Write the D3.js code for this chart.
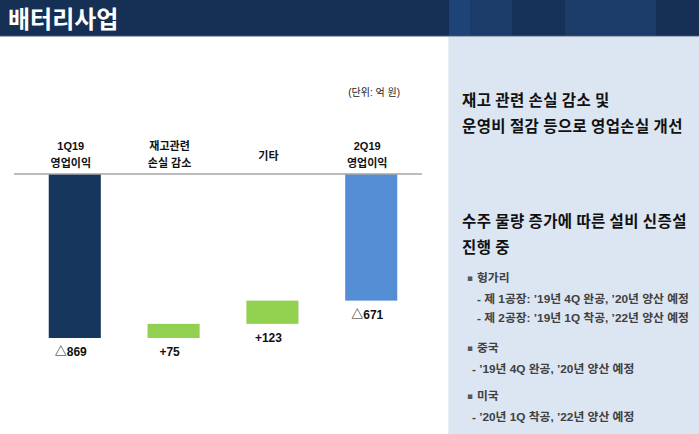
<!DOCTYPE html>
<html>
<head>
<meta charset="utf-8">
<script src="https://cdn.jsdelivr.net/npm/d3@7"></script>
<style>
  html, body { margin: 0; padding: 0; background: #fff; }
  svg { display: block; }
</style>
</head>
<body>
<div id="chart"></div>
<script>
// ---------------------------------------------------------------------------
// DATA
// ---------------------------------------------------------------------------
const categories = ["1Q19 영업이익", "재고관련 손실 감소", "기타", "2Q19 영업이익"];
const categoryLines = [["1Q19", "영업이익"], ["재고관련", "손실 감소"], ["기타"], ["2Q19", "영업이익"]];
const values = [-869, 75, 123, -671];
const kinds = ["total", "delta", "delta", "total"];
const valueLabels = ["△869", "+75", "+123", "△671"];
const unitLabel = "(단위: 억 원)";
const title = "배터리사업";

const headlines = [
  ["재고 관련 손실 감소 및", "운영비 절감 등으로 영업손실 개선"],
  ["수주 물량 증가에 따른 설비 신증설", "진행 중"]
];
const regions = ["헝가리", "중국", "미국"];
const regionNotes = [
  ["- 제 1공장: ’19년 4Q 완공, ’20년 양산 예정", "- 제 2공장: ’19년 1Q 착공, ’22년 양산 예정"],
  ["- ’19년 4Q 완공, ’20년 양산 예정"],
  ["- ’20년 1Q 착공, ’22년 양산 예정"]
];

// ---------------------------------------------------------------------------
// SETUP
// ---------------------------------------------------------------------------
const W = 699, H = 434;
const svg = d3.select("#chart").append("svg")
  .attr("width", W).attr("height", H);

const korean = "'Noto Sans CJK KR', sans-serif";
const latin = "'Liberation Sans', Arial, 'Noto Sans CJK KR', sans-serif";

// header bar
svg.append("rect").attr("x", 0).attr("y", 0).attr("width", W).attr("height", 36).attr("fill", "#152f55");
[[449, 21, "#1e4477"], [470, 42, "#1b3b68"], [512, 53, "#163157"], [565, 91, "#1b3b68"], [656, 43, "#163055"]]
  .forEach(([x, w, c]) => svg.append("rect").attr("x", x).attr("y", 0).attr("width", w).attr("height", 36).attr("fill", c));
svg.append("rect").attr("x", 0).attr("y", 35.5).attr("width", W).attr("height", 1).attr("fill", "#3c5475");

svg.append("text")
  .attr("x", 8).attr("y", 28)
  .style("font-family", korean).style("font-size", "24px").style("font-weight", "bold")
  .attr("fill", "#fff")
  .text(title);

// right panel
svg.append("rect").attr("x", 449).attr("y", 37).attr("width", W - 449).attr("height", H - 37).attr("fill", "#dce6f2");
svg.append("line").attr("x1", 448.5).attr("x2", 448.5).attr("y1", 37).attr("y2", H).attr("stroke", "#e8edf4");

// ---------------------------------------------------------------------------
// WATERFALL
// ---------------------------------------------------------------------------
let running = 0;
const steps = values.map((v, i) => {
  let start, end;
  if (kinds[i] === "total") { start = 0; end = v; running = v; }
  else { start = running; end = running + v; running = end; }
  return { name: categories[i], lines: categoryLines[i], label: valueLabels[i], kind: kinds[i], start, end, i };
});

const x = d3.scaleBand()
  .domain(categories)
  .range([2, 444])
  .padding(0.473);

const y = d3.scaleLinear()
  .domain([-869, 0])
  .range([338, 174]);

const colorOf = d => d.kind === "delta" ? "#92d050" : (d.i === 0 ? "#17365d" : "#558ed5");

const g = svg.append("g");

g.selectAll("rect.bar")
  .data(steps)
  .join("rect")
  .attr("class", "bar")
  .attr("x", d => x(d.name))
  .attr("width", x.bandwidth())
  .attr("y", d => y(Math.max(d.start, d.end)))
  .attr("height", d => Math.abs(y(d.start) - y(d.end)))
  .attr("fill", colorOf);

// zero line
g.append("line")
  .attr("x1", 14).attr("x2", 422)
  .attr("y1", y(0)).attr("y2", y(0))
  .attr("stroke", "#a6a6a6").attr("stroke-width", 1.5);

// category labels above
const cats = g.selectAll("text.cat")
  .data(steps)
  .join("text")
  .attr("class", "cat")
  .attr("text-anchor", "middle")
  .style("font-family", latin).style("font-size", "11px").style("font-weight", "bold")
  .attr("fill", "#111");
cats.each(function (d) {
  const t = d3.select(this);
  const cx = x(d.name) + x.bandwidth() / 2 - 4;
  const y0 = d.lines.length === 1 ? 160 : 150;
  d.lines.forEach((ln, k) => {
    t.append("tspan").attr("x", cx).attr("y", y0 + k * 17).text(ln);
  });
});

// value labels below bars
g.selectAll("text.val")
  .data(steps)
  .join("text")
  .attr("class", "val")
  .attr("text-anchor", "middle")
  .attr("x", d => x(d.name) + x.bandwidth() / 2 - 4)
  .attr("y", d => y(Math.min(d.start, d.end)) + 18)
  .style("font-family", latin).style("font-size", "12px").style("font-weight", "bold")
  .attr("fill", "#111")
  .text(d => d.label);

// unit
svg.append("text")
  .attr("x", 400).attr("y", 96).attr("text-anchor", "end")
  .style("font-family", latin).style("font-size", "10px")
  .attr("fill", "#222")
  .text(unitLabel);

// ---------------------------------------------------------------------------
// RIGHT PANEL TEXT
// ---------------------------------------------------------------------------
const headY = [106, 227];
headlines.forEach((lines, i) => {
  lines.forEach((ln, k) => {
    svg.append("text")
      .attr("x", 462).attr("y", headY[i] + k * 26)
      .style("font-family", korean).style("font-size", "15.5px").style("font-weight", "bold")
      .style("letter-spacing", "0.4px")
      .attr("fill", "#111")
      .text(ln);
  });
});

const regionY = [282, 352, 400];
const noteX = [477, 472, 472];
regions.forEach((r, i) => {
  svg.append("text")
    .attr("x", 467).attr("y", regionY[i] - 1)
    .style("font-family", "'DejaVu Sans', sans-serif").style("font-size", "9px")
    .attr("fill", "#595959")
    .text("▪");
  svg.append("text")
    .attr("x", 477).attr("y", regionY[i])
    .style("font-family", latin).style("font-size", "11.8px").style("font-weight", "bold")
    .attr("fill", "#404040")
    .text(r);
  regionNotes[i].forEach((n, k) => {
    svg.append("text")
      .attr("x", noteX[i]).attr("y", regionY[i] + 21 + k * 19)
      .style("font-family", latin).style("font-size", "11.8px").style("font-weight", "bold")
      .attr("fill", "#404040")
      .text(n);
  });
});
</script>
</body>
</html>
